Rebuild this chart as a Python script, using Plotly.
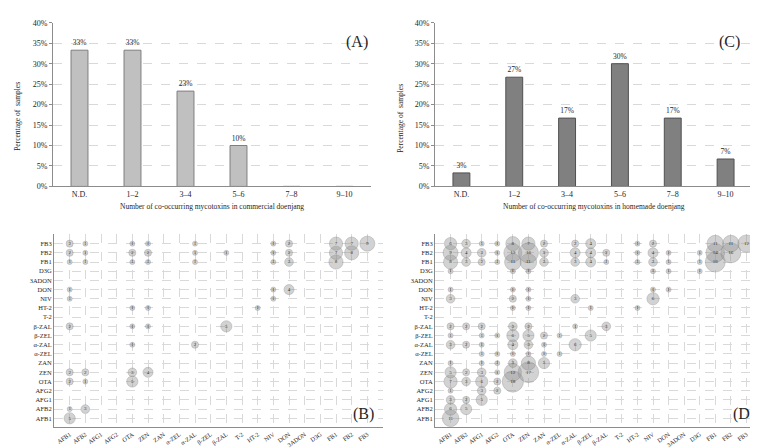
import plotly.graph_objects as go

# ---------------- data ----------------
bar_categories = ["N.D.", "1–2", "3–4", "5–6", "7–8", "9–10"]
commercial_pct = [33.3, 33.3, 23.3, 10.0, 0, 0]
commercial_lbl = ["33%", "33%", "23%", "10%", "", ""]
homemade_pct = [3.3, 26.7, 16.7, 30.0, 16.7, 6.7]
homemade_lbl = ["3%", "27%", "17%", "30%", "17%", "7%"]

toxins = ["AFB1", "AFB2", "AFG1", "AFG2", "OTA", "ZEN", "ZAN", "α-ZEL", "α-ZAL", "β-ZEL",
          "β-ZAL", "T-2", "HT-2", "NIV", "DON", "3ADON", "D3G", "FB1", "FB2", "FB3"]

# co-occurrence counts: row toxin -> {column toxin: count}
commercial_pairs = {
    "AFB1": {"AFB1": 5},
    "AFB2": {"AFB1": 1, "AFB2": 3},
    "OTA": {"AFB1": 2, "AFB2": 1, "OTA": 5},
    "ZEN": {"AFB1": 2, "AFB2": 2, "OTA": 3, "ZEN": 4},
    "α-ZAL": {"OTA": 1, "α-ZAL": 2},
    "β-ZAL": {"AFB1": 2, "OTA": 1, "ZEN": 1, "β-ZAL": 5},
    "HT-2": {"OTA": 1, "ZEN": 1, "HT-2": 1},
    "NIV": {"AFB1": 1, "NIV": 1},
    "DON": {"AFB1": 1, "NIV": 1, "DON": 4},
    "FB1": {"AFB1": 1, "AFB2": 1, "OTA": 1, "ZEN": 1, "α-ZAL": 1, "NIV": 1, "DON": 3, "FB1": 8},
    "FB2": {"AFB1": 2, "AFB2": 1, "OTA": 2, "ZEN": 2, "α-ZAL": 1, "β-ZAL": 1, "NIV": 1, "DON": 2,
            "FB1": 7, "FB2": 8},
    "FB3": {"AFB1": 2, "AFB2": 1, "OTA": 1, "ZEN": 1, "α-ZAL": 1, "NIV": 1, "DON": 2,
            "FB1": 7, "FB2": 7, "FB3": 9},
}

homemade_pairs = {
    "AFB1": {"AFB1": 11},
    "AFB2": {"AFB1": 6, "AFB2": 5},
    "AFG1": {"AFB1": 3, "AFB2": 2, "AFG1": 5},
    "AFG2": {"AFB1": 1, "AFG1": 3, "AFG2": 2},
    "OTA": {"AFB1": 7, "AFB2": 3, "AFG1": 6, "AFG2": 2, "OTA": 18},
    "ZEN": {"AFB1": 5, "AFB2": 2, "AFG1": 3, "AFG2": 1, "OTA": 12, "ZEN": 17},
    "ZAN": {"AFB1": 1, "AFG1": 1, "AFG2": 1, "OTA": 3, "ZEN": 8, "ZAN": 5},
    "α-ZEL": {"AFG1": 1, "AFG2": 1, "OTA": 1, "ZEN": 1, "ZAN": 1, "α-ZEL": 1},
    "α-ZAL": {"AFB1": 3, "AFB2": 2, "AFG1": 1, "OTA": 4, "ZEN": 3, "ZAN": 1, "α-ZAL": 6},
    "β-ZEL": {"AFB1": 1, "AFG1": 1, "AFG2": 1, "OTA": 6, "ZEN": 5, "ZAN": 2, "α-ZEL": 1, "β-ZEL": 5},
    "β-ZAL": {"AFB1": 2, "AFB2": 2, "AFG1": 2, "OTA": 3, "ZEN": 2, "α-ZAL": 1, "β-ZAL": 3},
    "HT-2": {"OTA": 1, "ZEN": 1, "β-ZEL": 1, "HT-2": 1},
    "NIV": {"AFB1": 3, "OTA": 2, "ZEN": 1, "α-ZAL": 3, "NIV": 6},
    "DON": {"AFB1": 1, "OTA": 1, "ZEN": 1, "NIV": 1, "DON": 1},
    "D3G": {"AFB1": 1, "OTA": 1, "ZEN": 1, "NIV": 1, "DON": 1, "D3G": 1},
    "FB1": {"AFB1": 8, "AFB2": 3, "AFG1": 2, "AFG2": 1, "OTA": 11, "ZEN": 11, "ZAN": 3, "α-ZAL": 3,
            "β-ZEL": 4, "β-ZAL": 1, "HT-2": 1, "NIV": 3, "DON": 1, "D3G": 1, "FB1": 16},
    "FB2": {"AFB1": 9, "AFB2": 4, "AFG1": 3, "AFG2": 1, "OTA": 13, "ZEN": 16, "ZAN": 3, "α-ZAL": 4,
            "β-ZEL": 4, "β-ZAL": 2, "HT-2": 1, "NIV": 4, "DON": 1, "D3G": 1, "FB1": 14, "FB2": 16},
    "FB3": {"AFB1": 6, "AFB2": 3, "AFG1": 1, "AFG2": 1, "OTA": 8, "ZEN": 7, "ZAN": 2, "α-ZAL": 2,
            "β-ZEL": 4, "HT-2": 1, "NIV": 2, "FB1": 11, "FB2": 11, "FB3": 12},
}

FONT = "Liberation Serif"
TXT = "#262626"

fig = go.Figure()

# ---------------- bar panels ----------------
fig.add_trace(go.Bar(x=bar_categories, y=commercial_pct, text=commercial_lbl,
                     textposition="outside", cliponaxis=False, width=0.32,
                     marker=dict(color="#c0c0c0", line=dict(color="#7f7f7f", width=1)),
                     textfont=dict(family=FONT, size=7.5, color=TXT),
                     xaxis="x", yaxis="y", showlegend=False))
fig.add_trace(go.Bar(x=bar_categories, y=homemade_pct, text=homemade_lbl,
                     textposition="outside", cliponaxis=False, width=0.32,
                     marker=dict(color="#808080", line=dict(color="#505050", width=1)),
                     textfont=dict(family=FONT, size=7.5, color=TXT),
                     xaxis="x2", yaxis="y2", showlegend=False))


# ---------------- bubble panels ----------------
def bubble_trace(pairs, xa, ya):
    xs, ys, vs = [], [], []
    for row, cols in pairs.items():
        for col, v in cols.items():
            xs.append(toxins.index(col) + 1)
            ys.append(toxins.index(row) + 1)
            vs.append(v)
    return go.Scatter(x=xs, y=ys, mode="markers+text", text=[str(v) for v in vs],
                      textposition="middle center",
                      textfont=dict(family=FONT, size=5, color="#333333"),
                      marker=dict(size=vs, sizemode="area", sizeref=0.08,
                                  color="rgba(150,150,150,0.6)",
                                  line=dict(color="rgba(125,125,125,0.8)", width=0.6)),
                      cliponaxis=False, xaxis=xa, yaxis=ya, showlegend=False)


fig.add_trace(bubble_trace(commercial_pairs, "x3", "y3"))
fig.add_trace(bubble_trace(homemade_pairs, "x4", "y4"))

W, H = 758, 448


def dx(a, b):
    return [a / W, b / W]


def dy(top, bottom):
    return [1 - bottom / H, 1 - top / H]


grid = dict(showgrid=True, gridcolor="#d9d9d9", griddash="dash", gridwidth=1)
tickf = dict(family=FONT, size=8, color=TXT)
bar_x = dict(showline=True, linecolor="#8c8c8c", linewidth=1, ticks="", showgrid=False,
             tickfont=tickf, fixedrange=True)
bar_y = dict(range=[0, 40], dtick=5, ticksuffix="%", showline=True, linecolor="#8c8c8c",
             linewidth=1, ticks="outside", ticklen=3, tickcolor="#8c8c8c", tickfont=tickf,
             zeroline=False, **grid)

bub_tickf = dict(family=FONT, size=6.2, color=TXT)
bub_x = dict(range=[0, 21], tickvals=list(range(1, 21)), ticktext=toxins, tickangle=-35,
             showline=True, linecolor="#8c8c8c", linewidth=1, ticks="", zeroline=False,
             tickfont=bub_tickf, **grid)
bub_y = dict(range=[0, 21], tickvals=list(range(1, 21)), ticktext=toxins,
             showline=True, linecolor="#8c8c8c", linewidth=1, ticks="", zeroline=False,
             tickfont=dict(family=FONT, size=6.5, color=TXT), **grid)

fig.update_layout(
    width=W, height=H, autosize=False,
    margin=dict(l=0, r=0, t=0, b=0),
    paper_bgcolor="white", plot_bgcolor="white",
    font=dict(family=FONT, color=TXT),
    xaxis=dict(domain=dx(45, 363), anchor="y", **bar_x),
    yaxis=dict(domain=dy(11, 178), anchor="x", **bar_y),
    xaxis2=dict(domain=dx(427, 744), anchor="y2", **bar_x),
    yaxis2=dict(domain=dy(11, 178), anchor="x2", **bar_y),
    xaxis3=dict(domain=dx(46, 375), anchor="y3", **bub_x),
    yaxis3=dict(domain=dy(227, 424), anchor="x3", **bub_y),
    xaxis4=dict(domain=dx(427, 754), anchor="y4", **bub_x),
    yaxis4=dict(domain=dy(227, 424), anchor="x4", **bub_y),
)


def ann(text, x, y, size, angle=0):
    fig.add_annotation(text=text, x=x / W, y=1 - y / H, xref="paper", yref="paper",
                       showarrow=False, textangle=angle, xanchor="center", yanchor="middle",
                       font=dict(family=FONT, size=size, color=TXT))


ann("Number of co-occurring mycotoxins in commercial doenjang", 204, 198, 7.5)
ann("Number of co-occurring mycotoxins in homemade doenjang", 586, 198, 7.5)
ann("Percentage of  samples", 10, 107, 7.5, -90)
ann("Percentage of  samples", 393, 109, 7.5, -90)
ann("(A)", 349, 31, 16)
ann("(C)", 721, 31, 16)
ann("(B)", 355, 410, 16)
ann("(D)", 736, 410, 16)

fig.write_html("out.html")
